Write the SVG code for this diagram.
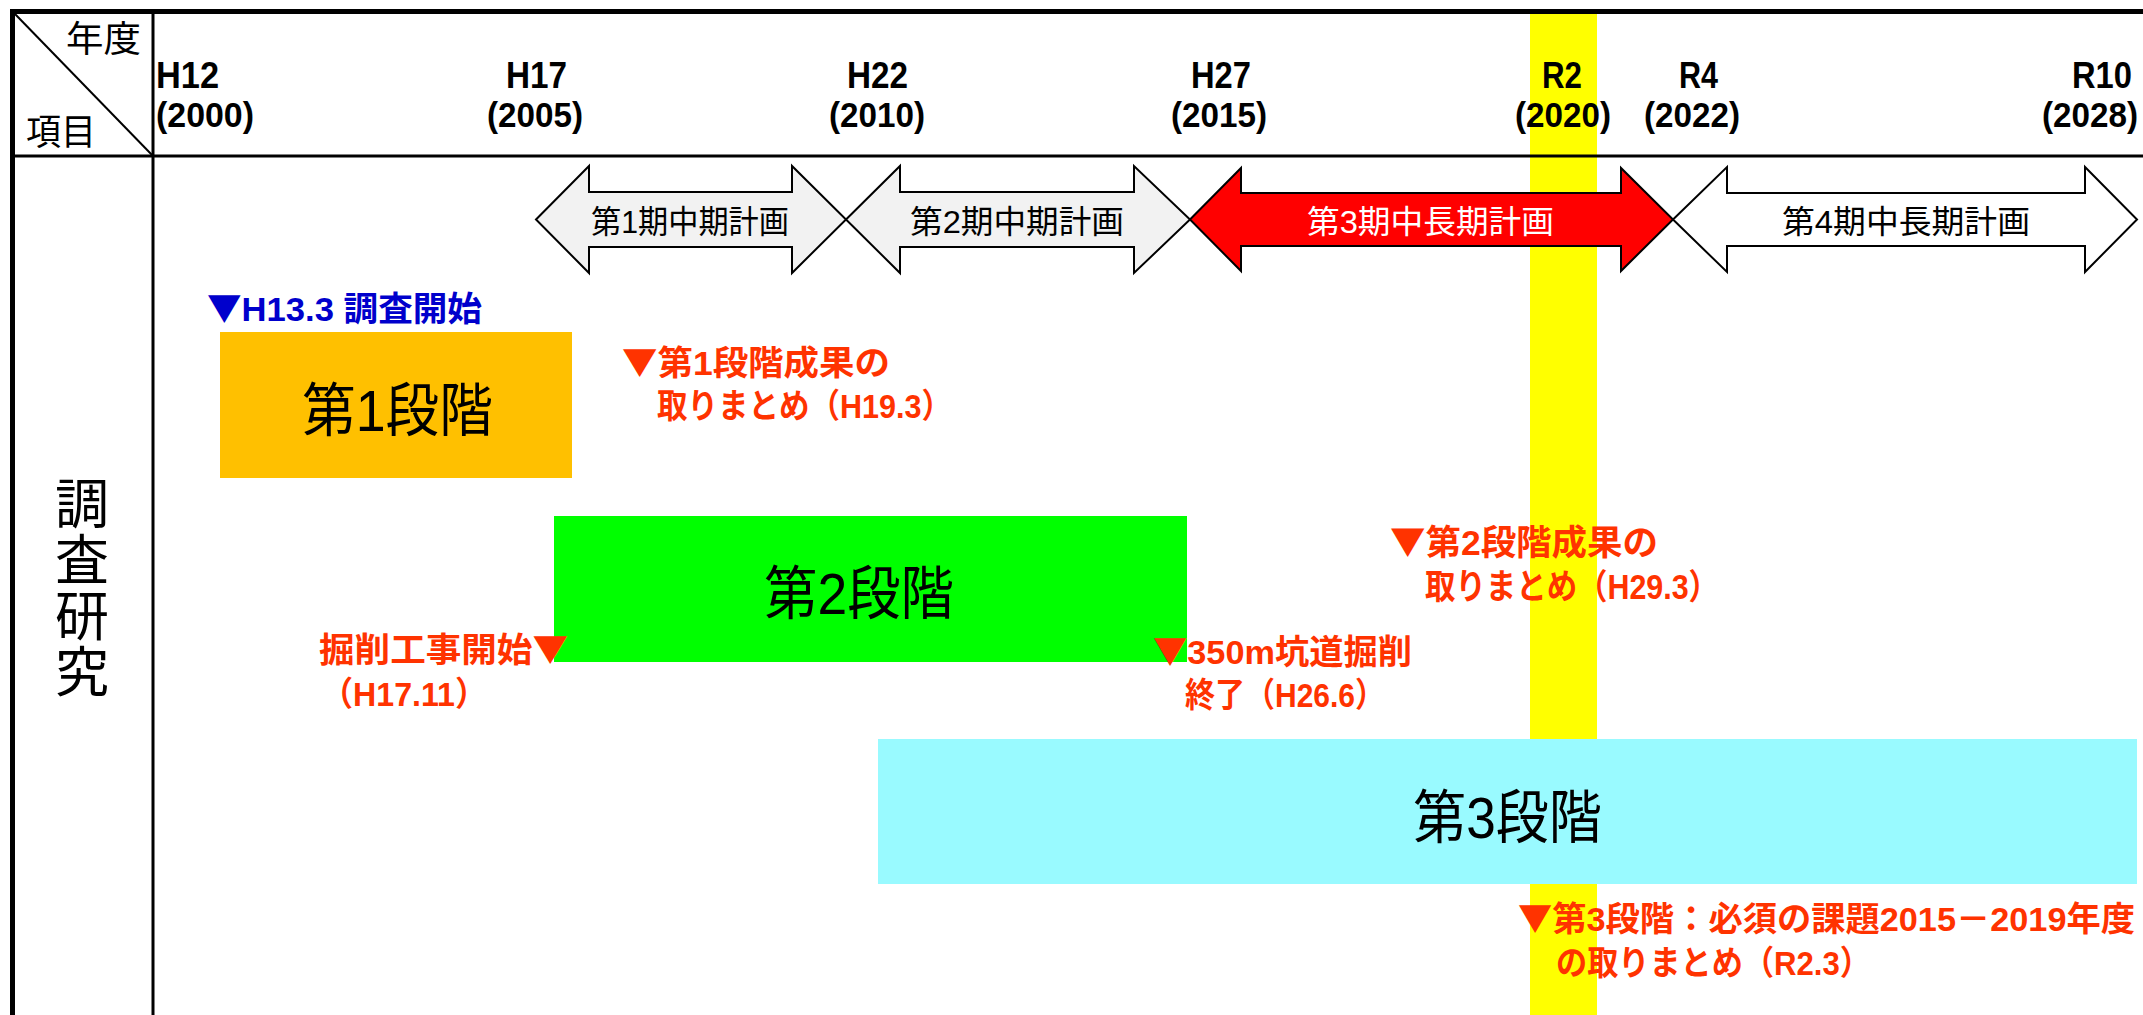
<svg xmlns="http://www.w3.org/2000/svg" width="2143" height="1015" viewBox="0 0 2143 1015">
<style>
text{font-family:"Liberation Sans","Noto Sans CJK JP",sans-serif;}
.tri{font-family:"Noto Sans CJK JP",sans-serif;}
.yr{font-size:36px;font-weight:bold;fill:#000;}
.yp{font-size:35px;font-weight:bold;fill:#000;}
.hd{font-size:36px;fill:#000;}
.ar{font-size:32px;fill:#000;}
.stg{font-size:58px;fill:#000;}
.note{font-size:34px;font-weight:bold;fill:#FF3300;}
.note2{font-size:35px;font-weight:bold;fill:#FF3300;}
.blue{font-size:34px;font-weight:bold;fill:#0000CC;}
.arrow{stroke:#000;stroke-width:2;stroke-linejoin:miter;}
.line{stroke:#000;fill:none;}
</style>
<rect x="0" y="0" width="2143" height="1015" fill="#FFFFFF"/>
<g id="highlight-r2">
<rect x="1530" y="14" width="67" height="1001" fill="#FFFF00"/>
</g>
<g id="table-frame">
<line class="line" x1="10" y1="11.5" x2="2143" y2="11.5" stroke-width="5"/>
<line class="line" x1="12.5" y1="9" x2="12.5" y2="1015" stroke-width="5"/>
<line class="line" x1="153" y1="14" x2="153" y2="1015" stroke-width="3"/>
<line class="line" x1="14" y1="156" x2="2143" y2="156" stroke-width="3"/>
<line class="line" x1="15" y1="14" x2="153" y2="156" stroke-width="2"/>
</g>
<g id="header-corner">
<text class="hd" x="66" y="52" textLength="75" lengthAdjust="spacingAndGlyphs">年度</text>
<text class="hd" x="26" y="145" textLength="70" lengthAdjust="spacingAndGlyphs">項目</text>
</g>
<g id="years">
<text class="yr" x="156" y="88" textLength="63" lengthAdjust="spacingAndGlyphs">H12</text>
<text class="yp" x="156" y="127" textLength="98" lengthAdjust="spacingAndGlyphs">(2000)</text>
<text class="yr" x="506" y="88" textLength="61" lengthAdjust="spacingAndGlyphs">H17</text>
<text class="yp" x="487" y="127" textLength="96" lengthAdjust="spacingAndGlyphs">(2005)</text>
<text class="yr" x="847" y="88" textLength="61" lengthAdjust="spacingAndGlyphs">H22</text>
<text class="yp" x="829" y="127" textLength="96" lengthAdjust="spacingAndGlyphs">(2010)</text>
<text class="yr" x="1191" y="88" textLength="60" lengthAdjust="spacingAndGlyphs">H27</text>
<text class="yp" x="1171" y="127" textLength="96" lengthAdjust="spacingAndGlyphs">(2015)</text>
<text class="yr" x="1542" y="88" textLength="40" lengthAdjust="spacingAndGlyphs">R2</text>
<text class="yp" x="1515" y="127" textLength="96" lengthAdjust="spacingAndGlyphs">(2020)</text>
<text class="yr" x="1679" y="88" textLength="39" lengthAdjust="spacingAndGlyphs">R4</text>
<text class="yp" x="1644" y="127" textLength="96" lengthAdjust="spacingAndGlyphs">(2022)</text>
<text class="yr" x="2072" y="88" textLength="60" lengthAdjust="spacingAndGlyphs">R10</text>
<text class="yp" x="2042" y="127" textLength="96" lengthAdjust="spacingAndGlyphs">(2028)</text>
</g>
<g id="row-label">
<text class="hd" style="font-size:54px" x="55" y="524" textLength="54" lengthAdjust="spacingAndGlyphs">調</text>
<text class="hd" style="font-size:54px" x="55" y="580" textLength="54" lengthAdjust="spacingAndGlyphs">査</text>
<text class="hd" style="font-size:54px" x="55" y="636" textLength="54" lengthAdjust="spacingAndGlyphs">研</text>
<text class="hd" style="font-size:54px" x="55" y="692" textLength="54" lengthAdjust="spacingAndGlyphs">究</text>
</g>
<g id="plan1">
<polygon class="arrow" fill="#F2F2F2" points="536,219.5 589,166 589,192 792,192 792,166 846,219.5 792,273 792,247 589,247 589,273"/>
<text class="ar" x="591" y="233" textLength="198" lengthAdjust="spacingAndGlyphs">第1期中期計画</text>
</g>
<g id="plan2">
<polygon class="arrow" fill="#F2F2F2" points="846,219.5 900,166 900,192 1134,192 1134,166 1190,219.5 1134,273 1134,247 900,247 900,273"/>
<text class="ar" x="910" y="233" textLength="214" lengthAdjust="spacingAndGlyphs">第2期中期計画</text>
</g>
<g id="plan3">
<polygon class="arrow" fill="#FF0000" points="1190,219.5 1241,168 1241,193 1621,193 1621,168 1673,219.5 1621,271 1621,246 1241,246 1241,271"/>
<text class="ar" style="fill:#FFFFFF" x="1307" y="233" textLength="247" lengthAdjust="spacingAndGlyphs">第3期中長期計画</text>
</g>
<g id="plan4">
<polygon class="arrow" fill="#FFFFFF" points="1673,219.5 1727,167 1727,193 2085,193 2085,167 2137,219.5 2085,272 2085,246 1727,246 1727,272"/>
<text class="ar" x="1782" y="233" textLength="248" lengthAdjust="spacingAndGlyphs">第4期中長期計画</text>
</g>
<g id="start-note">
<text class="blue" x="207" y="321" textLength="275" lengthAdjust="spacingAndGlyphs"><tspan class="tri">▼</tspan>H13.3 調査開始</text>
</g>
<g id="stage1">
<rect x="220" y="332" width="352" height="146" fill="#FFC000"/>
<text class="stg" x="302" y="431" textLength="191" lengthAdjust="spacingAndGlyphs">第1段階</text>
</g>
<g id="stage1-result">
<text class="note" x="622" y="375" textLength="268" lengthAdjust="spacingAndGlyphs"><tspan class="tri">▼</tspan>第1段階成果の</text>
<text class="note" x="657" y="418" textLength="295" lengthAdjust="spacingAndGlyphs">取りまとめ（H19.3）</text>
</g>
<g id="stage2">
<rect x="554" y="516" width="633" height="146" fill="#00FF00"/>
<text class="stg" x="764" y="614" textLength="190" lengthAdjust="spacingAndGlyphs">第2段階</text>
</g>
<g id="excavation-start">
<text class="note" x="319" y="662" textLength="249" lengthAdjust="spacingAndGlyphs">掘削工事開始<tspan class="tri">▼</tspan></text>
<text class="note" x="321" y="706" textLength="166" lengthAdjust="spacingAndGlyphs">（H17.11）</text>
</g>
<g id="excavation-end">
<text class="note" x="1153" y="664" textLength="259" lengthAdjust="spacingAndGlyphs"><tspan class="tri">▼</tspan>350m坑道掘削</text>
<text class="note" x="1185" y="707" textLength="200" lengthAdjust="spacingAndGlyphs">終了（H26.6）</text>
</g>
<g id="stage2-result">
<text class="note2" x="1390" y="555" textLength="268" lengthAdjust="spacingAndGlyphs"><tspan class="tri">▼</tspan>第2段階成果の</text>
<text class="note2" x="1425" y="599" textLength="294" lengthAdjust="spacingAndGlyphs">取りまとめ（H29.3）</text>
</g>
<g id="stage3">
<rect x="878" y="739" width="1259" height="145" fill="#99FAFF"/>
<text class="stg" x="1413" y="838" textLength="189" lengthAdjust="spacingAndGlyphs">第3段階</text>
</g>
<g id="stage3-result">
<text class="note" x="1518" y="931" textLength="617" lengthAdjust="spacingAndGlyphs"><tspan class="tri">▼</tspan>第3段階：必須の課題2015－2019年度</text>
<text class="note" x="1556" y="975" textLength="315" lengthAdjust="spacingAndGlyphs">の取りまとめ（R2.3）</text>
</g>
<g id="connectors"/>
</svg>
